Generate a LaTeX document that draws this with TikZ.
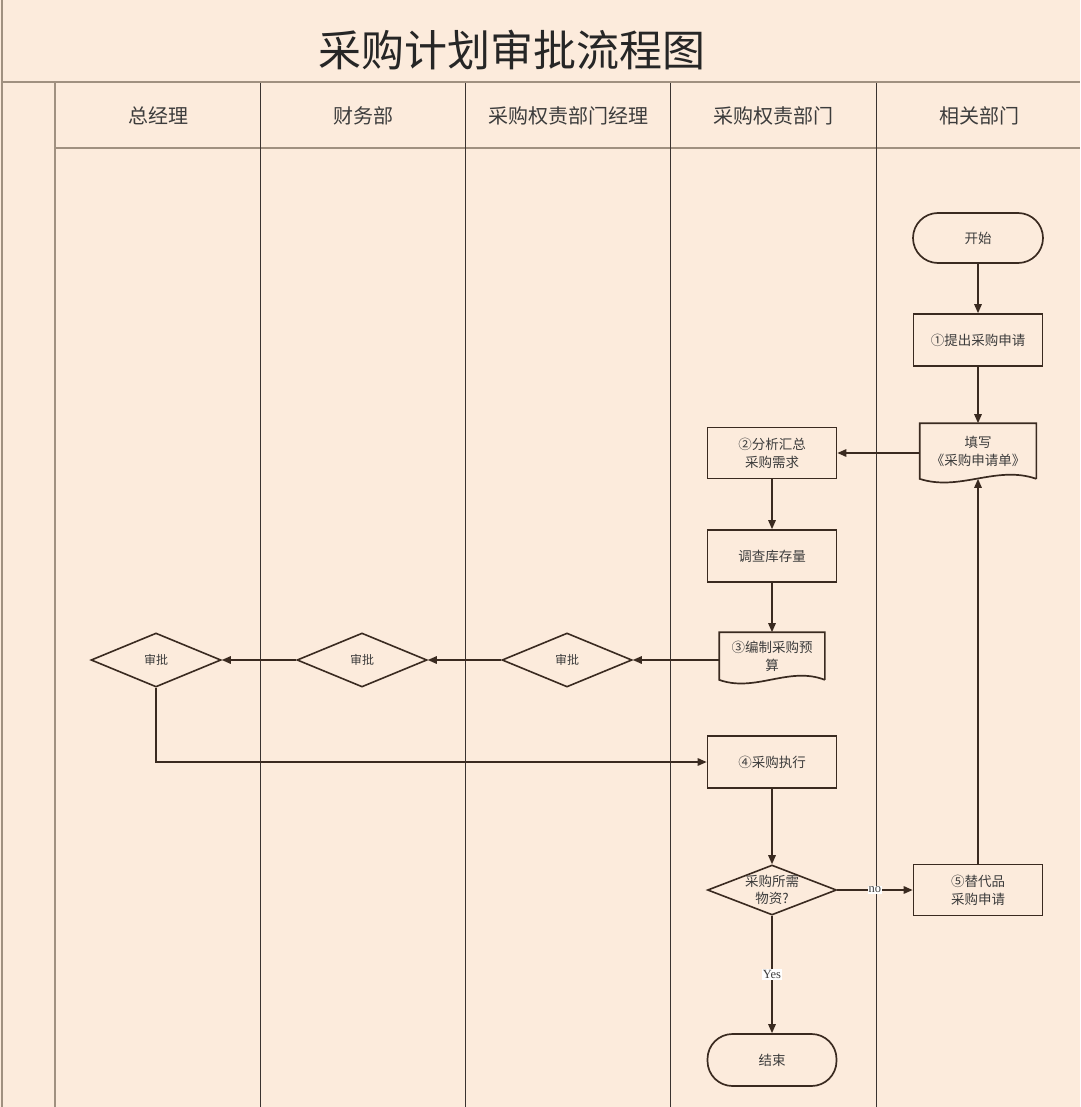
\documentclass[tikz,border=0pt]{standalone}
\usepackage{fontspec}
\setmainfont{Noto Sans CJK SC}
\newfontfamily\serifen{Liberation Serif}
\usetikzlibrary{arrows.meta,shapes.geometric}
\definecolor{bg}{HTML}{FCEBDC}
\definecolor{frame}{HTML}{A09080}
\definecolor{lane}{HTML}{3A3330}
\definecolor{ink}{HTML}{3A2A20}
\definecolor{txt}{HTML}{3C3C3C}
\tikzset{
  box/.style={draw=ink, line width=1.7pt, minimum width=129pt, minimum height=52pt,
    inner sep=2pt, font=\fontsize{13.5}{18}\selectfont, text=txt, align=center},
  term/.style={box, rounded corners=25pt},
  docbox/.style={box, draw=none},
  dec/.style={diamond, draw=ink, line width=1.6pt, inner sep=0pt, minimum width=130pt, minimum height=54pt},
  dectext/.style={font=\fontsize{12}{16}\selectfont, text=txt, align=center, inner sep=0pt},
  arr/.style={draw=ink, line width=1.5pt, -{Triangle[length=9pt,width=7.5pt]}},
  lbl/.style={fill=white, inner sep=1pt, font=\serifen\fontsize{12.5}{13}\selectfont, text=txt},
  head/.style={font=\fontsize{20}{24}\selectfont, text=txt},
  wave/.style={draw=ink, line width=1.7pt},
}
\begin{document}
\begin{tikzpicture}[x=1pt,y=-1pt]
\useasboundingbox (0,0) rectangle (1080,1107);
\fill[bg] (0,0) rectangle (1080,1107);
% frame
\draw[frame, line width=2pt] (2,0) -- (2,1107);
\draw[frame, line width=2pt] (2,82) -- (1080,82);
\draw[frame, line width=2pt] (55,82) -- (55,1107);
\draw[frame, line width=2pt] (55,148) -- (1080,148);
\foreach \x in {260,465,670,876} \draw[lane, line width=1pt] (\x,83) -- (\x,1107);
% title and headers
\node[font=\fontsize{43}{48}\selectfont, text=black!85] (title) at (512,50) {采购计划审批流程图};
\node[head] (h1) at (158,116) {总经理};
\node[head] (h2) at (363,116) {财务部};
\node[head] (h3) at (568,116) {采购权责部门经理};
\node[head] (h4) at (773,116) {采购权责部门};
\node[head] (h5) at (979,116) {相关部门};
% nodes
\node[term, minimum width=130pt, minimum height=50pt] (start) at (978,238) {开始};
\node[box] (s1) at (978,340) {①提出采购申请};
\node[docbox, minimum width=115pt, minimum height=54pt] (fill) at (978,451) {填写\\《采购申请单》};
\draw[wave] (fill.south east) -- (fill.north east) -- (fill.north west) -- (fill.south west)
  .. controls +(40,13) and +(-40,-14) .. (fill.south east);
\node[box, minimum height=51pt] (s2) at (772,453) {②分析汇总\\采购需求};
\node[box] (inv) at (772,556) {调查库存量};
\node[docbox, minimum width=104pt, minimum height=46pt] (s3) at (772,656) {③编制采购预\\算};
\draw[wave] (s3.south east) -- (s3.north east) -- (s3.north west) -- (s3.south west)
  .. controls +(36,13) and +(-36,-14) .. (s3.south east);
\node[dec] (d3) at (567,660) {};
\node[dectext] (t3) at (d3) {审批};
\node[dec] (d2) at (362,660) {};
\node[dectext] (t2) at (d2) {审批};
\node[dec] (d1) at (156,660) {};
\node[dectext] (t1) at (d1) {审批};
\node[box] (s4) at (772,762) {④采购执行};
\node[dec, minimum width=129pt, minimum height=50pt] (q) at (772,890) {};
\node[dectext, font=\fontsize{13.5}{17}\selectfont] (qt) at (q) {采购所需\\物资?};
\node[box, minimum height=51pt] (s5) at (978,890) {⑤替代品\\采购申请};
\node[term, minimum height=52pt] (end) at (772,1060) {结束};
% connectors
\draw[arr] (start) -- (s1);
\draw[arr] (s1) -- (fill.north);
\draw[arr] (fill.west |- s2.east) -- (s2.east);
\draw[arr] (s2) -- (inv);
\draw[arr] (inv) -- (s3.north);
\draw[arr] (s3.west |- d3.east) -- (d3.east);
\draw[arr] (d3.west) -- (d2.east);
\draw[arr] (d2.west) -- (d1.east);
\draw[arr] (d1.south) |- (s4.west);
\draw[arr] (s4) -- (q.north);
\draw[arr] (q.east) -- node[lbl] {no} (s5.west);
\draw[arr] (q.south) -- node[lbl] {Yes} (end.north);
\draw[arr] (s5.north) -- (fill.south);
\end{tikzpicture}
\end{document}
